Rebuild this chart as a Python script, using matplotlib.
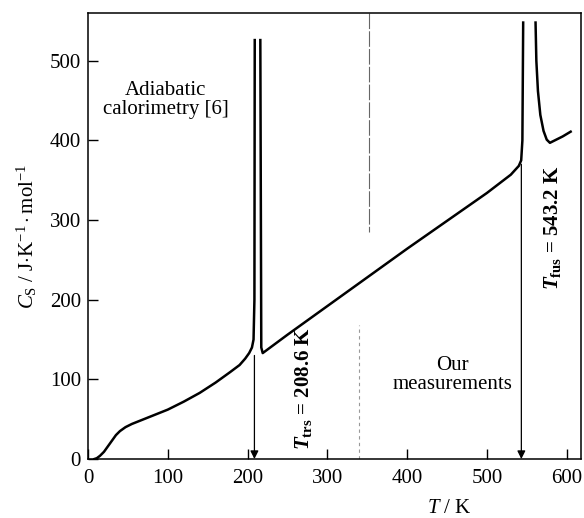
import numpy as np
import matplotlib
matplotlib.use("Agg")
import matplotlib.pyplot as plt

plt.rcParams['font.family'] = ['Liberation Serif', 'DejaVu Serif']
plt.rcParams['mathtext.fontset'] = 'custom'
plt.rcParams['mathtext.rm'] = 'Liberation Serif'
plt.rcParams['mathtext.it'] = 'Liberation Serif:italic'
plt.rcParams['mathtext.bf'] = 'Liberation Serif:bold'
plt.rcParams['mathtext.bfit'] = 'Liberation Serif:bold:italic'

# Low-temperature branch (adiabatic calorimetry) up to the transition peak
T_low = [8, 11, 15, 20, 25, 30, 35, 40, 47, 55, 65, 80, 100, 120, 140, 160, 178,
         190, 197, 202, 205.5, 207.5, 208.6, 209]
Cs_low = [0, 1, 4, 9, 16, 23, 30, 35, 40, 44, 48, 54, 62, 72, 83, 96, 109,
          118, 126, 133, 140, 150, 200, 526]

# Between the transition and fusion
T_mid = [216, 217.2, 219, 250, 300, 350, 400, 450, 500, 530, 540, 543, 544.5, 545.5]
Cs_mid = [526, 140, 133, 156, 192, 228, 264, 299, 334, 357, 368, 375, 400, 548]

# Liquid after fusion
T_high = [561, 562, 564, 567, 571, 575, 579, 585, 595, 605]
Cs_high = [548, 500, 462, 432, 412, 401, 397, 400, 405, 411]

T_trs = 208.6
T_fus = 543.2

x_ticks = [0, 100, 200, 300, 400, 500, 600]
y_ticks = [0, 100, 200, 300, 400, 500]

fig = plt.figure(figsize=(5.84, 5.18), dpi=100)
ax = fig.add_axes([0.1507, 0.1139, 0.8442, 0.8610])

lw = 1.8
ax.plot(T_low, Cs_low, color='black', lw=lw, solid_joinstyle='round')
ax.plot(T_mid, Cs_mid, color='black', lw=lw, solid_joinstyle='round')
ax.plot(T_high, Cs_high, color='black', lw=lw, solid_joinstyle='round')

# faint separator lines
ax.plot([352, 352], [560, 285], color='#666666', lw=0.8, ls=(0, (14, 2)))
ax.plot([340, 340], [0, 168], color='#999999', lw=0.8, ls=(0, (3, 3)))

# arrows
ax.annotate('', xy=(T_trs, 0), xytext=(T_trs, 130),
            arrowprops=dict(arrowstyle='-|>', color='black', lw=0.9,
                            mutation_scale=12, shrinkA=0, shrinkB=0))
ax.annotate('', xy=(T_fus, 0), xytext=(T_fus, 370),
            arrowprops=dict(arrowstyle='-|>', color='black', lw=0.9,
                            mutation_scale=12, shrinkA=0, shrinkB=0))

fs = 15
ax.text(97, 451, 'Adiabatic\ncalorimetry [6]', ha='center', va='center',
        fontsize=fs, linespacing=1.0)
ax.text(457, 105, 'Our\nmeasurements', ha='center', va='center',
        fontsize=fs, linespacing=1.0)
ax.text(270, 89, r'$\mathbfit{T}_{\mathbf{trs}}$ = 208.6 K', rotation=90,
        ha='center', va='center', fontsize=fs, fontweight='bold')
ax.text(582, 291, r'$\mathbfit{T}_{\mathbf{fus}}$ = 543.2 K', rotation=90,
        ha='center', va='center', fontsize=fs, fontweight='bold')

ax.set_xlim(0, 618)
ax.set_ylim(0, 560)
ax.set_xticks(x_ticks)
ax.set_yticks(y_ticks)
ax.tick_params(direction='in', length=7, width=1, labelsize=fs)
ax.tick_params(axis='y', pad=5)
ax.tick_params(axis='x', pad=7)
for s in ax.spines.values():
    s.set_linewidth(1.1)

ax.text((449 - 88) / 493, -0.11, r'$T$ / K', transform=ax.transAxes,
        ha='center', va='center', fontsize=fs)
ax.set_ylabel(r'$C_\mathrm{S}$ / J$\cdot$K$^{\mathregular{-1}}\cdot$mol$^{\mathregular{-1}}$',
              fontsize=fs, labelpad=8)

fig.savefig('out.png', dpi=100)
